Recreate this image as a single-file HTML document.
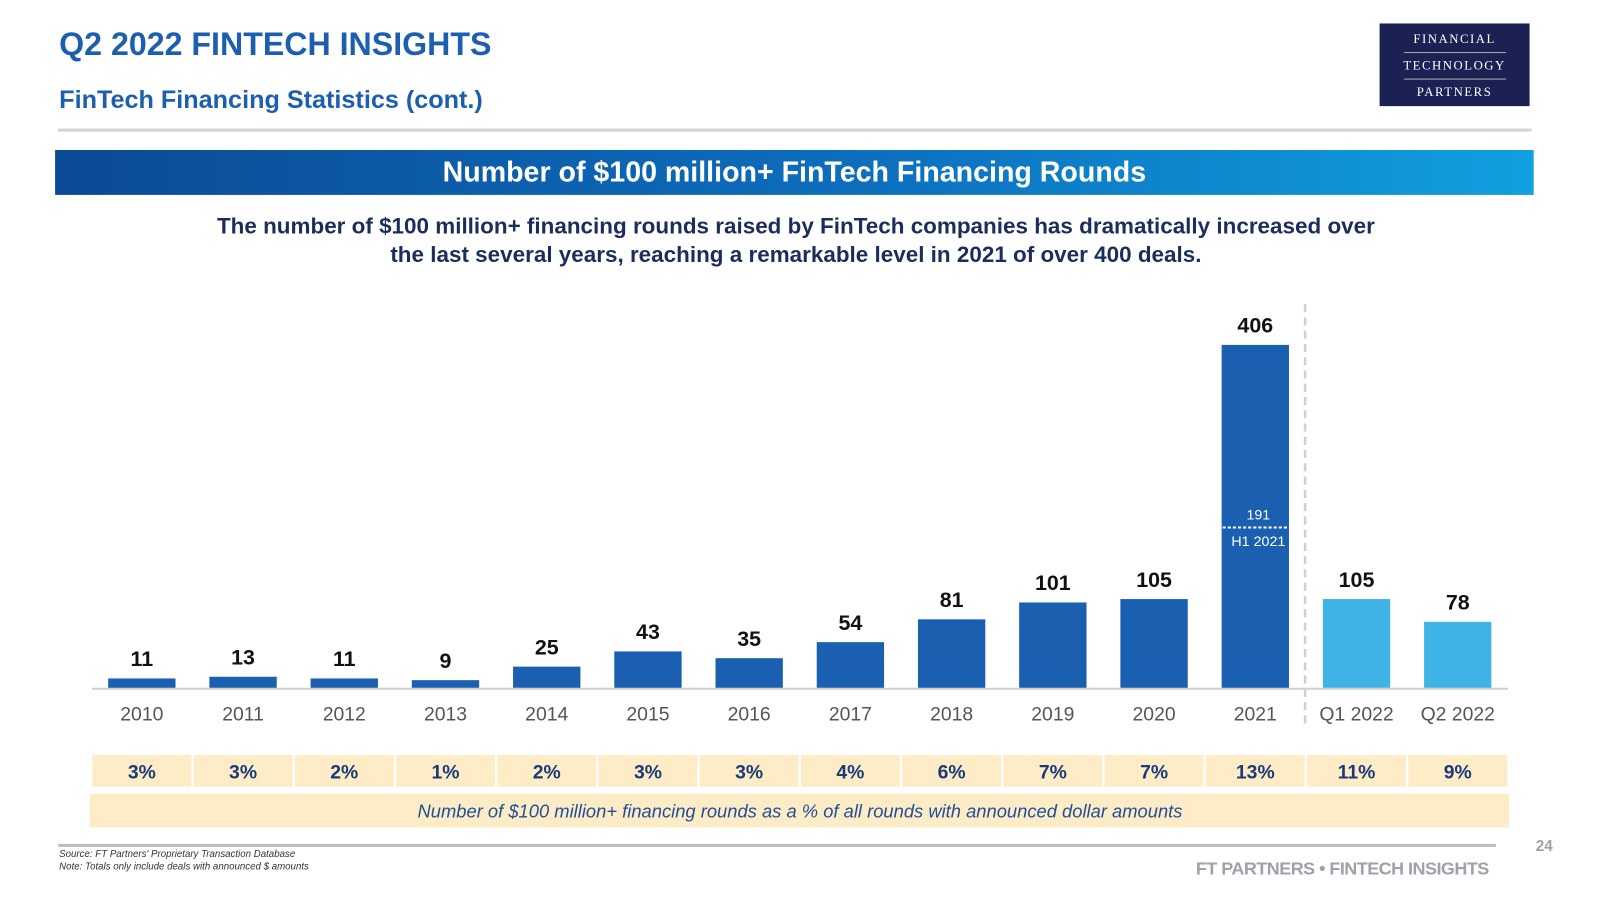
<!DOCTYPE html>
<html><head><meta charset="utf-8"><style>
body{margin:0;width:1600px;height:900px;background:#fff;font-family:"Liberation Sans",sans-serif;position:relative;overflow:hidden}
#wrap{position:absolute;left:0;top:0;width:1600px;height:900px;transform:scale(1.0204);transform-origin:0 0}
.abs{position:absolute}
</style></head><body>
<div id="wrap">
<div class="abs" style="left:58px;top:25px;font-size:31.5px;font-weight:bold;color:#1c5fb0;">Q2 2022 FINTECH INSIGHTS</div>
<div class="abs" style="left:58px;top:85px;font-size:24.7px;font-weight:bold;color:#1c5fb0;">FinTech Financing Statistics (cont.)</div>
<div class="abs" style="left:1352px;top:23px;width:147px;height:81px;background:#1b2253;color:#fff;font-family:'Liberation Serif',serif;font-size:12.5px;letter-spacing:1.5px;text-align:center;">
<div style="margin-top:8px">FINANCIAL</div><div style="width:100px;height:1px;background:#aaa;margin:5px auto"></div><div>TECHNOLOGY</div><div style="width:100px;height:1px;background:#aaa;margin:5px auto"></div><div>PARTNERS</div></div>
<div class="abs" style="left:57px;top:126px;width:1444px;height:3px;background:#d4d4d4"></div>
<div class="abs" style="left:54px;top:147px;width:1449px;height:44px;background:linear-gradient(90deg,#0b4a94,#0d6fbe 55%,#10a0e0);color:#fff;font-size:28px;font-weight:bold;text-align:center;line-height:44px;">Number of $100 million+ FinTech Financing Rounds</div>
<div class="abs" style="left:150px;top:208px;width:1260px;text-align:center;font-size:22px;font-weight:bold;color:#1b2d5a;line-height:28px;">The number of $100 million+ financing rounds raised by FinTech companies has dramatically increased over<br>the last several years, reaching a remarkable level in 2021 of over 400 deals.</div>
<svg class="abs" style="left:0;top:0" width="1600" height="900" id="chart"></svg>
<div class="abs" style="left:58px;top:832px;font-size:9.5px;font-style:italic;color:#333;line-height:12px">Source: FT Partners' Proprietary Transaction Database<br>Note: Totals only include deals with announced $ amounts</div>
<div class="abs" style="left:57px;top:827px;width:1409px;height:3px;background:#bdbdbd"></div>
<div class="abs" style="left:1505px;top:821px;font-size:15px;font-weight:bold;color:#a0a0aa">24</div>
<div class="abs" style="left:1172px;top:841px;font-size:17.6px;font-weight:bold;color:#a0a0aa;letter-spacing:-0.5px">FT PARTNERS • FINTECH INSIGHTS</div>
</div>
<script>
const categories=["2010","2011","2012","2013","2014","2015","2016","2017","2018","2019","2020","2021","Q1 2022","Q2 2022"];
const values=[11,13,11,9,25,43,35,54,81,101,105,406,105,78];
const percents=["3%","3%","2%","1%","2%","3%","3%","4%","6%","7%","7%","13%","11%","9%"];
const h1Value=191;
const NS="http://www.w3.org/2000/svg";
const svg=document.getElementById('chart');
const baseY=674, scale=336/406, x0=139, step=99.2, bw=66;
const xPos=i=>x0+i*step;
const yPos=v=>baseY-v*scale;
function mk(t,a){const e=document.createElementNS(NS,t);for(const k in a)e.setAttribute(k,a[k]);svg.appendChild(e);return e;}
let ax=mk('line',{x1:90,x2:1478,y1:675,y2:675,stroke:'#d0d0d0','stroke-width':2});


let dl=mk('line',{x1:1279,x2:1279,y1:298,y2:712,stroke:'#d0d0d0','stroke-width':2.5,'stroke-dasharray':'8,5'});


categories.forEach((c,i)=>{
  const x=xPos(i),y=yPos(values[i]);
  const r=mk('rect',{x:x-bw/2,y:y,width:bw,height:baseY-y,fill:i>=12?'#3fb3e6':'#1a5fb0'});
  
  
  const t=mk('text',{x:x,y:y-12,'text-anchor':'middle','font-size':21,'font-weight':'bold',fill:'#111','font-family':'Liberation Sans'});
  t.textContent=values[i];
  
  
  const l=mk('text',{x:x,y:706,'text-anchor':'middle','font-size':19,fill:'#555','font-family':'Liberation Sans'});
  l.textContent=c;
  
  
  const cell=mk('rect',{x:x-48.5,y:740,width:97,height:31,fill:'#fdecc6'});
  
  
  const p=mk('text',{x:x,y:763,'text-anchor':'middle','font-size':19,'font-weight':'bold',fill:'#1a3a7a','font-family':'Liberation Sans'});
  p.textContent=percents[i];
  
  
});
const hx=xPos(11), hy=yPos(h1Value)+1;
let hl=mk('line',{x1:hx-bw/2+1,x2:hx+bw/2-1,y1:hy,y2:hy,stroke:'#fff','stroke-width':2,'stroke-dasharray':'3,2'});


let ht=mk('text',{x:hx+3,y:hy-8,'text-anchor':'middle','font-size':14,fill:'#fff','font-family':'Liberation Sans'});
ht.textContent=h1Value;


let hn=mk('text',{x:hx+3,y:hy+18,'text-anchor':'middle','font-size':14,fill:'#fff','font-family':'Liberation Sans'});
hn.textContent='H1 2021';


let nb=mk('rect',{x:88,y:778,width:1391,height:33,fill:'#fdecc6'});


let nt=mk('text',{x:784,y:801,'text-anchor':'middle','font-size':18,'font-style':'italic',fill:'#1f4f9a','font-family':'Liberation Sans'});
nt.textContent='Number of $100 million+ financing rounds as a % of all rounds with announced dollar amounts';


</script>
</body></html>
